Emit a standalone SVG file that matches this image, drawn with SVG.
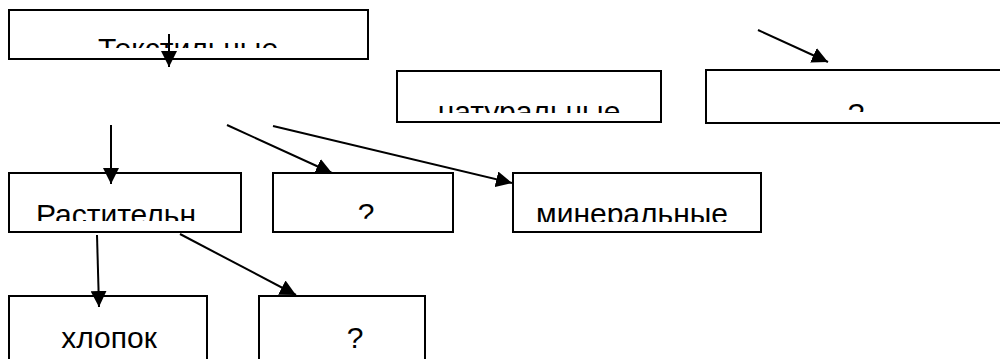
<svg xmlns="http://www.w3.org/2000/svg" width="1000" height="359" viewBox="0 0 1000 359">
<style>
.box{fill:#fff;stroke:#000;stroke-width:2}
.t{font-family:"Liberation Sans",Arial,sans-serif;font-size:30px;fill:#000;text-anchor:middle}
.c line{stroke:#000;stroke-width:2;marker-end:url(#ah)}
</style>
<defs>
<marker id="ah" markerUnits="userSpaceOnUse" markerWidth="18" markerHeight="16" refX="16" refY="8" orient="auto">
<path d="M0,0 L16,8 L0,16 z" fill="#000"/>
</marker>
<clipPath id="c1"><rect x="9" y="10" width="359" height="38"/></clipPath>
<clipPath id="c2"><rect x="397" y="71" width="264" height="42"/></clipPath>
<clipPath id="c3"><rect x="706" y="70" width="300" height="42"/></clipPath>
<clipPath id="c4"><rect x="9" y="173" width="232" height="48"/></clipPath>
<clipPath id="c5"><rect x="273" y="173" width="180" height="48"/></clipPath>
<clipPath id="c6"><rect x="513" y="173" width="248" height="49"/></clipPath>
</defs>
<g id="n-tekst"><rect class="box" x="9" y="10" width="359" height="49"/><text class="t" x="188" y="59" clip-path="url(#c1)">Текстильные</text></g>
<g id="n-nat"><rect class="box" x="397" y="71" width="264" height="51"/><text class="t" x="529" y="122" clip-path="url(#c2)">натуральные</text></g>
<g id="n-q1"><rect class="box" x="706" y="70" width="300" height="53"/><text class="t" x="856" y="124" clip-path="url(#c3)">?</text></g>
<g id="n-rast"><rect class="box" x="9" y="173" width="232" height="59"/><text class="t" x="116" y="225" clip-path="url(#c4)">Растительн</text></g>
<g id="n-q2"><rect class="box" x="273" y="173" width="180" height="59"/><text class="t" x="366" y="224" clip-path="url(#c5)">?</text></g>
<g id="n-min"><rect class="box" x="513" y="173" width="248" height="59"/><text class="t" x="632" y="224" clip-path="url(#c6)">минеральные</text></g>
<g id="n-hlop"><rect class="box" x="9" y="296" width="198" height="80"/><text class="t" x="109" y="348">хлопок</text></g>
<g id="n-q3"><rect class="box" x="259" y="296" width="166" height="80"/><text class="t" x="355" y="348">?</text></g>
<g id="connectors" class="c">
<line x1="169" y1="34" x2="169" y2="67"/>
<line x1="758" y1="30" x2="828" y2="62"/>
<line x1="111" y1="125" x2="111" y2="184"/>
<line x1="227" y1="125" x2="332" y2="173"/>
<line x1="273" y1="126" x2="512" y2="183"/>
<line x1="97" y1="235" x2="99" y2="307"/>
<line x1="180" y1="234" x2="296" y2="295"/>
</g>
</svg>
